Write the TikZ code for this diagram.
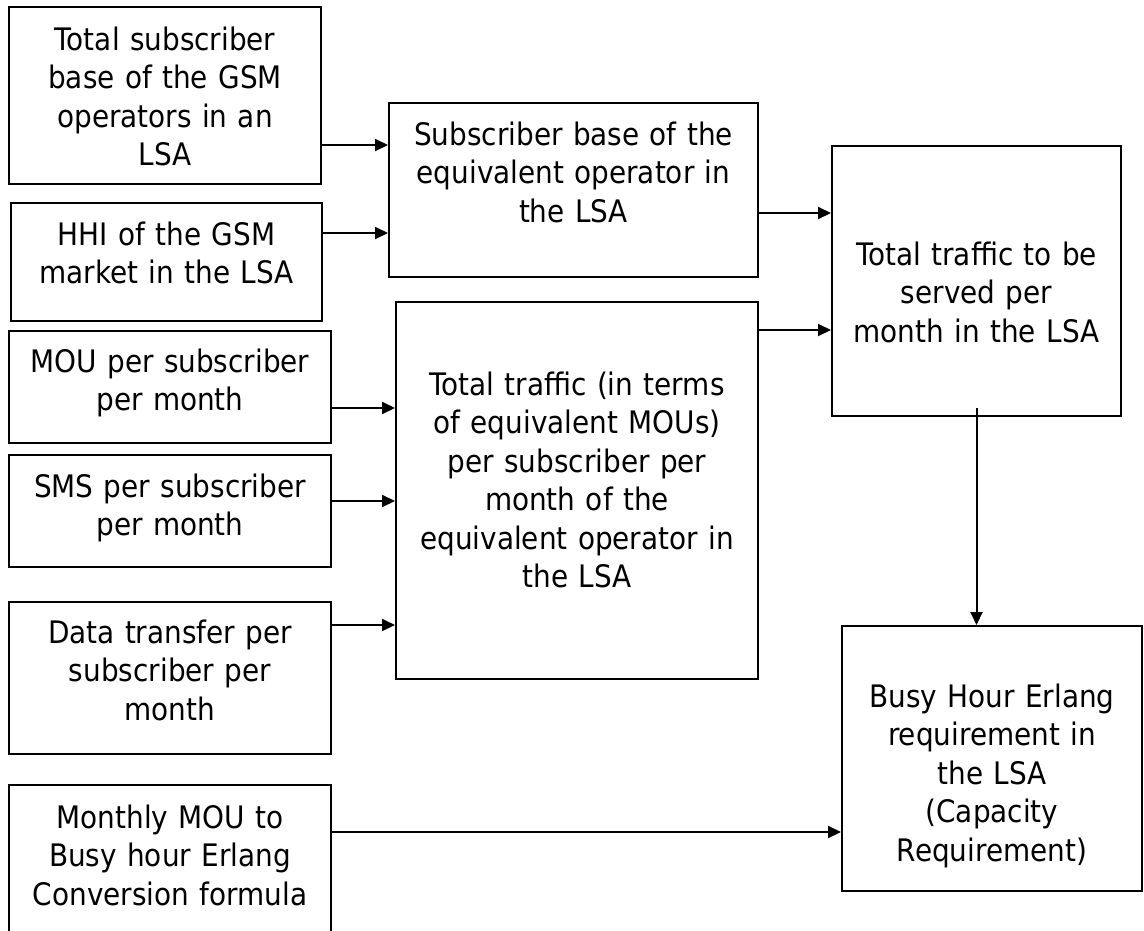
\documentclass[tikz,border=0pt]{standalone}
\usepackage{fontspec}
\setmainfont{DejaVu Sans}[FakeStretch=0.9]
\usepackage{tikz}
\usetikzlibrary{arrows.meta,positioning,calc}

\begin{document}
\begin{tikzpicture}[
    x=1pt, y=-1pt,
    block/.style={rectangle, draw, line width=2pt, inner sep=0pt},
    lbl/.style={inner sep=0pt, text width=360pt, align=center, anchor=base,
        font=\fontsize{31pt}{38.5pt}\selectfont},
    edge/.style={-{Triangle[length=13pt, width=12pt]}, line width=2pt}
]
\useasboundingbox (0,0) rectangle (1144,930);

% Input boxes on the left
\node[block, minimum width=312pt, minimum height=177pt] (tsb) at (165,95.5) {};
\node[block, minimum width=311pt, minimum height=118pt] (hhi) at (166.5,262) {};
\node[block, minimum width=322pt, minimum height=112pt] (mou) at (170,387) {};
\node[block, minimum width=322pt, minimum height=112pt] (sms) at (170,511) {};
\node[block, minimum width=322pt, minimum height=152pt] (dat) at (170,678) {};
\node[block, minimum width=322pt, minimum height=147pt] (mmc) at (170,858.5) {};

% Intermediate and result boxes
\node[block, minimum width=369pt, minimum height=174pt] (eqv) at (573.5,190) {};
\node[block, minimum width=362pt, minimum height=377pt] (trf) at (577,490.5) {};
\node[block, minimum width=289pt, minimum height=270pt] (tot) at (976.5,281) {};
\node[block, minimum width=300pt, minimum height=265pt] (bhe) at (992,758.5) {};

% Texts
\node[lbl] (tsb-t) at (tsb.north |- 0,50) {Total subscriber\\base of the GSM\\operators in an\\LSA};
\node[lbl] (hhi-t) at (hhi.north |- 0,245) {HHI of the GSM\\market in the LSA};
\node[lbl] (mou-t) at (mou.north |- 0,372) {MOU per subscriber\\per month};
\node[lbl] (sms-t) at (sms.north |- 0,497) {SMS per subscriber\\per month};
\node[lbl] (dat-t) at (dat.north |- 0,643) {Data transfer per\\subscriber per\\month};
\node[lbl] (mmc-t) at (mmc.north |- 0,828) {Monthly MOU to\\Busy hour Erlang\\Conversion formula};
\node[lbl] (eqv-t) at (eqv.north |- 0,145) {Subscriber base of the\\equivalent operator in\\the LSA};
\node[lbl] (trf-t) at (trf.north |- 0,395) {Total traffic (in terms\\of equivalent MOUs)\\per subscriber per\\month of the\\equivalent operator in\\the LSA};
\node[lbl] (tot-t) at (tot.north |- 0,265) {Total traffic to be\\served per\\month in the LSA};
\node[lbl] (bhe-t) at (bhe.north |- 0,707) {Busy Hour Erlang\\requirement in\\the LSA\\(Capacity\\Requirement)};

% Connectors
\draw[edge] (tsb.east |- 0,145) -- (eqv.west |- 0,145);
\draw[edge] (hhi.east |- 0,233) -- (eqv.west |- 0,233);
\draw[edge] (mou.east |- 0,408) -- (trf.west |- 0,408);
\draw[edge] (sms.east |- 0,501) -- (trf.west |- 0,501);
\draw[edge] (dat.east |- 0,625) -- (trf.west |- 0,625);
\draw[edge] (eqv.east |- 0,213) -- (tot.west |- 0,213);
\draw[edge] (trf.east |- 0,330) -- (tot.west |- 0,330);
\draw[edge] ([yshift=9pt]tot.south) -- (tot.south |- bhe.north);
\draw[edge] (mmc.east |- 0,832) -- (bhe.west |- 0,832);
\end{tikzpicture}
\end{document}
